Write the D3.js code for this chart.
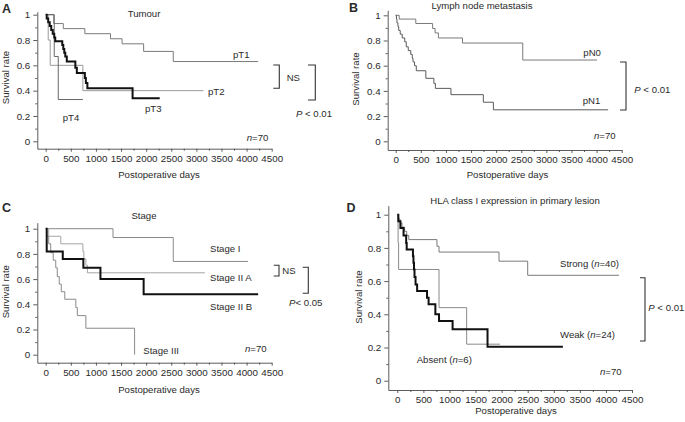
<!DOCTYPE html>
<html><head><meta charset="utf-8">
<script src="https://cdn.jsdelivr.net/npm/d3@7"></script>
<style>
body{margin:0;background:#fff;}
svg{display:block;font-family:"Liberation Sans",Arial,Helvetica,sans-serif;}
</style></head><body>
<svg id="c" width="685" height="422"></svg>
<script>
// ---- tick labels ----
const xTicks = [0,500,1000,1500,2000,2500,3000,3500,4000,4500];
const xMinorTicks = [250,750,1250,1750,2250,2750,3250,3750,4250];
const yTicks = [0,0.2,0.4,0.6,0.8,1];
const yMinorTicks = [0.1,0.3,0.5,0.7,0.9];

// ---- Panel A: Tumour (day, survival) ----
const pT1 = [[0,1],[160,0.93],[350,0.89],[780,0.85],[1290,0.81],[1520,0.77],[1950,0.71],[2540,0.63],[4230,0.63]];
const pT2 = [[0,1],[50,0.8],[90,0.6],[740,0.4],[3140,0.4]];
const pT3 = [[0,1],[20,0.97],[50,0.94],[80,0.91],[110,0.88],[140,0.85],[170,0.82],[190,0.79],[330,0.76],[350,0.73],[370,0.70],[390,0.67],[420,0.63],[590,0.58],[620,0.54],[780,0.50],[800,0.46],[830,0.42],[1730,0.34],[2270,0.34]];
const pT4 = [[0,1],[170,0.67],[250,0.33],[740,0.33]];

// ---- Panel B: Lymph node metastasis ----
const pN0 = [[0,1],[70,0.97],[400,0.935],[735,0.895],[785,0.86],[850,0.82],[1330,0.78],[2530,0.645],[4010,0.645]];
const pN1 = [[0,1],[15,0.97],[25,0.94],[45,0.91],[60,0.88],[90,0.85],[130,0.82],[180,0.79],[210,0.75],[250,0.72],[300,0.69],[330,0.66],[345,0.63],[375,0.60],[410,0.56],[600,0.50],[760,0.46],[790,0.42],[1100,0.37],[1745,0.31],[1945,0.25],[4230,0.25]];

// ---- Panel C: Stage ----
const stageI = [[0,1],[1340,0.93],[2540,0.74],[4030,0.74]];
const stageIIA = [[0,1],[60,0.94],[300,0.88],[740,0.82],[760,0.76],[800,0.71],[830,0.65],[3170,0.65]];
const stageIIB = [[0,1],[20,0.82],[340,0.76],[750,0.69],[1090,0.60],[1950,0.48],[4230,0.48]];
const stageIII = [[0,1],[20,0.94],[60,0.88],[100,0.81],[150,0.75],[200,0.69],[230,0.62],[270,0.56],[310,0.50],[380,0.44],[600,0.375],[630,0.31],[800,0.21],[1770,0]];

// ---- Panel D: HLA class I expression ----
const strong = [[0,1],[20,0.975],[50,0.95],[90,0.925],[140,0.90],[180,0.875],[220,0.85],[760,0.81],[800,0.775],[1950,0.72],[2500,0.635],[4250,0.635]];
const weak = [[0,1],[20,0.96],[60,0.92],[120,0.875],[170,0.83],[180,0.79],[300,0.75],[310,0.71],[320,0.67],[330,0.625],[350,0.58],[380,0.54],[570,0.50],[600,0.46],[730,0.40],[800,0.36],[1060,0.31],[1730,0.205],[3175,0.205]];
const absent = [[0,1],[15,0.83],[25,0.67],[800,0.44],[1330,0.22],[1970,0.22]];

const svg = d3.select("#c");
const TXT = "#2a2a2a", AX = "#4a4a4a";

function text(g, x, y, parts, opts={}) {
  const t = g.append("text").attr("x", x).attr("y", y)
    .attr("font-size", opts.size || 9.6).attr("fill", TXT)
    .attr("text-anchor", opts.anchor || "start");
  if (opts.weight) t.attr("font-weight", opts.weight);
  if (opts.rotate) t.attr("transform", `rotate(-90,${x},${y})`);
  (Array.isArray(parts) ? parts : [parts]).forEach(p => {
    if (typeof p === "string") t.append("tspan").text(p);
    else t.append("tspan").attr("font-style", "italic").text(p.i);
  });
  return t;
}

function bracket(g, x1, x2, y1, y2) {
  g.append("path").attr("d", `M${x1},${y1}H${x2}V${y2}H${x1}`)
    .attr("fill", "none").attr("stroke", "#333").attr("stroke-width", 1.1);
}

function drawPanel(p) {
  const g = svg.append("g");
  const k = (p.x4500 - p.x0) / 4500;
  const dMin = -(p.x0 - p.yAxisX) / k;
  const x = d3.scaleLinear().domain([dMin, 4500]).range([p.yAxisX, p.x4500]);
  const ky = p.y0 - p.y1;
  const sMin = -(p.xAxisY - p.y0) / ky;
  const sMax = 1 + p.yExt / ky;
  const y = d3.scaleLinear().domain([sMin, sMax]).range([p.xAxisY, p.y1 - p.yExt]);

  g.append("g").attr("transform", `translate(0,${p.xAxisY})`)
    .call(d3.axisBottom(x).tickValues(xTicks).tickSize(3).tickSizeOuter(0).tickPadding(3.5).tickFormat(d3.format("d")));
  g.append("g").attr("transform", `translate(0,${p.xAxisY})`)
    .call(d3.axisBottom(x).tickValues(xMinorTicks).tickSize(2).tickSizeOuter(0).tickFormat(""))
    .select(".domain").remove();
  g.append("g").attr("transform", `translate(${p.yAxisX},0)`)
    .call(d3.axisLeft(y).tickValues(yTicks).tickSize(4).tickSizeOuter(0).tickPadding(3).tickFormat(d3.format("~g")));
  g.append("g").attr("transform", `translate(${p.yAxisX},0)`)
    .call(d3.axisLeft(y).tickValues(yMinorTicks).tickSize(2).tickSizeOuter(0).tickFormat(""))
    .select(".domain").remove();
  g.selectAll(".domain, .tick line").attr("stroke", AX).attr("stroke-width", 0.9);
  g.selectAll(".tick text").attr("fill", TXT).attr("font-size", 9.8)
    .attr("font-family", '"Liberation Sans",Arial,sans-serif');

  const line = d3.line().x(d => x(d[0])).y(d => y(d[1])).curve(d3.curveStepAfter);
  p.series.forEach(s => {
    g.append("path").datum(s.data).attr("d", line)
      .attr("fill", "none").attr("stroke", s.color).attr("stroke-width", s.width || 1);
  });
  p.extra(g);
}

// Panel A
drawPanel({
  yAxisX: 37.3, x0: 45.7, x4500: 271.7, y1: 14.7, y0: 141.3, xAxisY: 148.7, yExt: 3,
  series: [
    {data: pT1, color: "#7a7a7a"},
    {data: pT2, color: "#9a9a9a"},
    {data: pT4, color: "#666"},
    {data: pT3, color: "#111", width: 2},
  ],
  extra: g => {
    text(g, 2, 13, "A", {size: 12.5, weight: "bold"});
    text(g, 144, 17.3, "Tumour", {anchor: "middle"});
    text(g, 233, 57.6, "pT1");
    text(g, 208, 94.6, "pT2");
    text(g, 145, 112, "pT3");
    text(g, 62.7, 120.6, "pT4");
    bracket(g, 273.3, 279.3, 65, 88.3);
    text(g, 286.7, 81, "NS");
    bracket(g, 308, 315.3, 65, 100);
    text(g, 296, 116.6, [{i: "P"}, " < 0.01"]);
    text(g, 246.7, 140.6, [{i: "n"}, "=70"]);
    text(g, 159, 177.5, "Postoperative days", {anchor: "middle"});
    text(g, 8.6, 77.5, "Survival rate", {anchor: "middle", rotate: true});
  }
});

// Panel B
drawPanel({
  yAxisX: 387.7, x0: 395.7, x4500: 621.7, y1: 15.3, y0: 141.3, xAxisY: 150, yExt: 5,
  series: [
    {data: pN0, color: "#7a7a7a"},
    {data: pN1, color: "#5a5a5a"},
  ],
  extra: g => {
    text(g, 349, 12, "B", {size: 12.5, weight: "bold"});
    text(g, 482, 9, "Lymph node metastasis", {anchor: "middle"});
    text(g, 583.3, 55.6, "pN0");
    text(g, 582.7, 104, "pN1");
    bracket(g, 620, 626, 62, 110);
    text(g, 634.3, 92.6, [{i: "P"}, " < 0.01"]);
    text(g, 594, 139.3, [{i: "n"}, "=70"]);
    text(g, 507.5, 177.5, "Postoperative days", {anchor: "middle"});
    text(g, 358.6, 79, "Survival rate", {anchor: "middle", rotate: true});
  }
});

// Panel C
drawPanel({
  yAxisX: 37.3, x0: 45.7, x4500: 271.7, y1: 228.7, y0: 354.7, xAxisY: 362.7, yExt: 6,
  series: [
    {data: stageI, color: "#8a8a8a"},
    {data: stageIIA, color: "#a5a5a5"},
    {data: stageIII, color: "#8a8a8a"},
    {data: stageIIB, color: "#111", width: 2},
  ],
  extra: g => {
    text(g, 2, 212, "C", {size: 12.5, weight: "bold"});
    text(g, 144, 219.3, "Stage", {anchor: "middle"});
    text(g, 210, 252.3, "Stage I");
    text(g, 210, 280.6, "Stage II A");
    text(g, 210, 310, "Stage II B");
    text(g, 143.3, 354, "Stage III");
    text(g, 245, 352, [{i: "n"}, "=70"]);
    bracket(g, 273.7, 279, 265.3, 276);
    text(g, 282.3, 274.3, "NS");
    bracket(g, 302.7, 308.3, 267.3, 293.3);
    text(g, 289, 306, [{i: "P"}, "< 0.05"]);
    text(g, 159, 392.5, "Postoperative days", {anchor: "middle"});
    text(g, 8.6, 291.7, "Survival rate", {anchor: "middle", rotate: true});
  }
});

// Panel D
drawPanel({
  yAxisX: 388.3, x0: 397.3, x4500: 632, y1: 214.7, y0: 380.7, xAxisY: 390, yExt: 9,
  series: [
    {data: strong, color: "#7a7a7a"},
    {data: absent, color: "#8a8a8a"},
    {data: weak, color: "#111", width: 2},
  ],
  extra: g => {
    text(g, 346.5, 212, "D", {size: 12.5, weight: "bold"});
    text(g, 515, 203.5, "HLA class I expression in primary lesion", {anchor: "middle"});
    text(g, 560, 267.3, ["Strong (", {i: "n"}, "=40)"]);
    text(g, 560, 338.3, ["Weak (", {i: "n"}, "=24)"]);
    text(g, 416.7, 363.3, ["Absent (", {i: "n"}, "=6)"]);
    text(g, 600, 375, [{i: "n"}, "=70"]);
    bracket(g, 640, 645, 277.7, 341);
    text(g, 648.3, 310.6, [{i: "P"}, " < 0.01"]);
    text(g, 516, 414, "Postoperative days", {anchor: "middle"});
    text(g, 361.6, 297, "Survival rate", {anchor: "middle", rotate: true});
  }
});
</script>
</body></html>
